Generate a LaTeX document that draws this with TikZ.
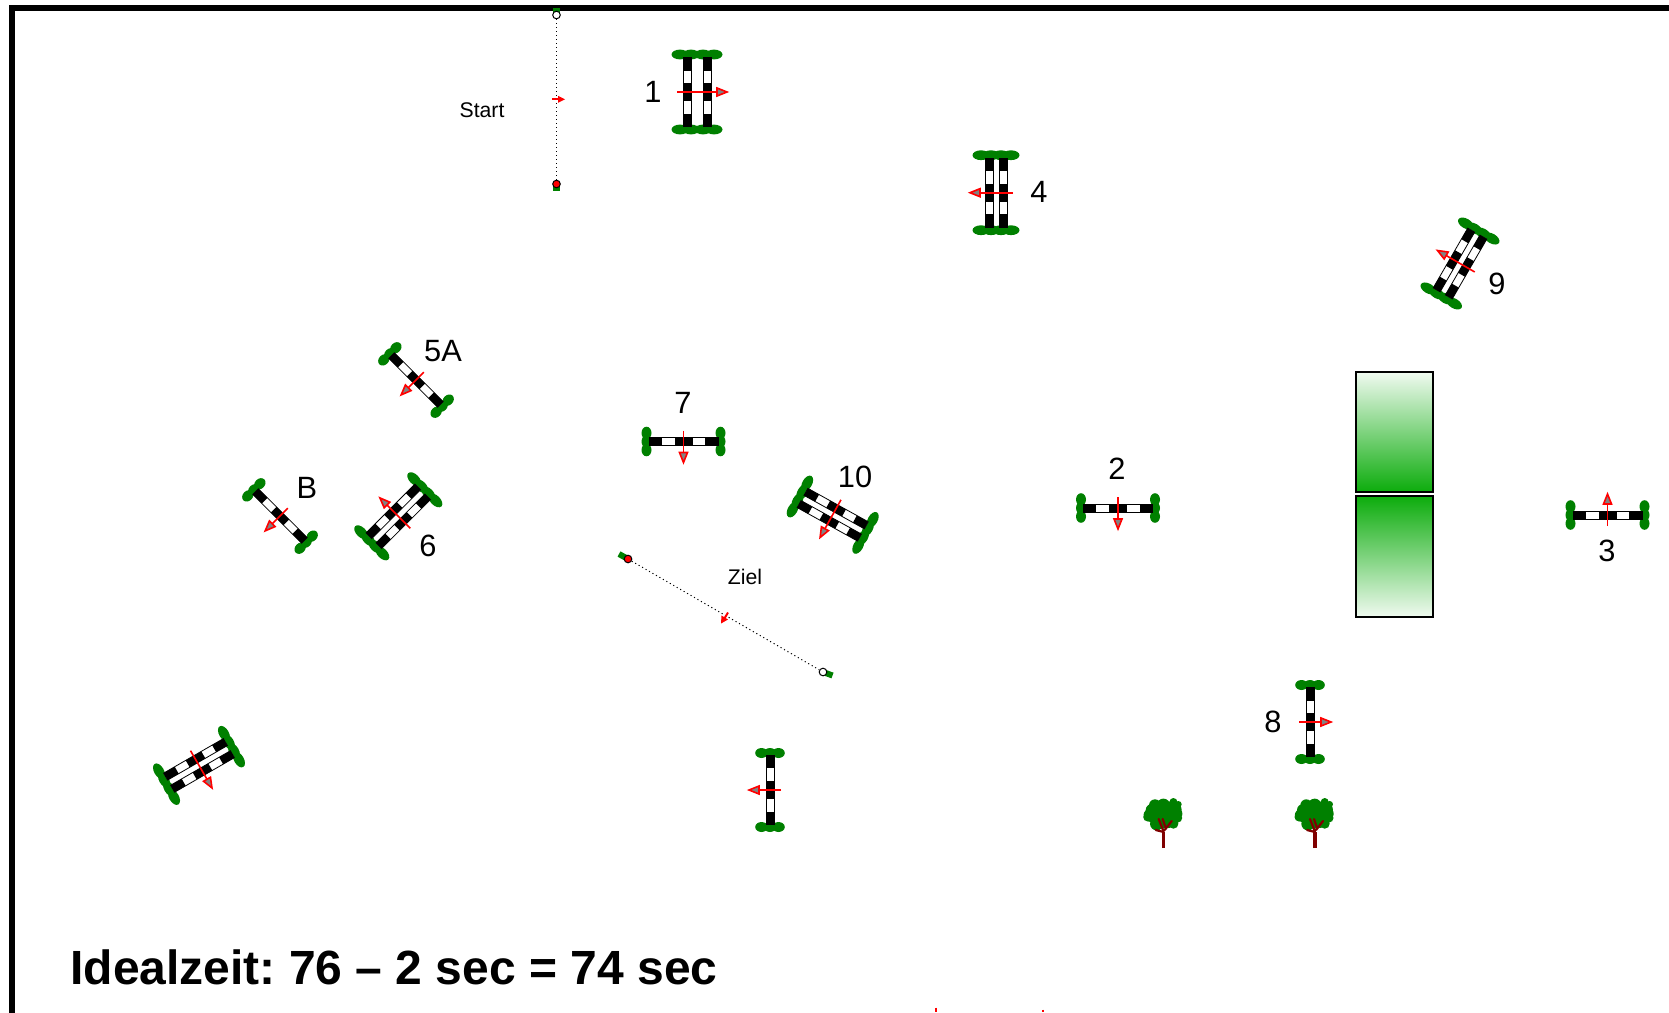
\documentclass[tikz,border=0pt]{standalone}
\usepackage{fontspec}
\setmainfont{Liberation Sans}
\frenchspacing
\definecolor{hedge}{RGB}{0,128,0}
\definecolor{boxgreen}{RGB}{12,172,12}
\definecolor{boxpale}{RGB}{240,250,240}
\definecolor{trunk}{RGB}{128,0,0}
\definecolor{headgray}{RGB}{130,130,130}
\newcommand\jumpbar[1]{%
  \path[barwhite] (-34.5,#1-4) rectangle (34.5,#1+4);
  \fill[black] (-34.5,#1-4) rectangle (-21.7,#1+4);
  \fill[black] (-9,#1-4) rectangle (9,#1+4);
  \fill[black] (21.5,#1-4) rectangle (34.5,#1+4);
}
\newcommand\oxerbody[5]{% half spacing, arrow tail, arrow tip, lobe list, lobe radius
  \foreach \s in {-1,1}{
    \foreach \o in {#4}{
      \fill[hedge] (\s*37.5,\o) ellipse [x radius=4.9,y radius=#5];
    }
  }
  \jumpbar{-#1}
  \jumpbar{#1}
  \draw[redline] (0,#2) -- (0,#3-10);
  \path[redhead] (-4,#3-10) -- (4,#3-10) -- (0,#3) -- cycle;
}
\tikzset{
  x=.5pt,y=-.5pt,
  barwhite/.style={fill=white,draw=black,line width=.4pt},
  redline/.style={draw=red,line width=.8pt},
  redhead/.style={draw=red,fill=headgray,line width=.8pt,line join=miter},
  biglabel/.style={font=\fontsize{15.4}{15.4}\selectfont,inner sep=0pt},
  smalllabel/.style={font=\fontsize{10.6}{11}\selectfont,inner sep=0pt},
  postwhite/.style={circle,draw=black,fill=white,line width=.5pt,minimum size=3.8pt,inner sep=0pt},
  postred/.style={circle,draw=black,fill=red,line width=.5pt,minimum size=3.8pt,inner sep=0pt},
  timeline/.style={draw=black,line width=.5pt,dash pattern=on .55pt off 1.45pt},
  singlejump/.pic={
    \foreach \s in {-1,1}{
      \foreach \o in {-8.5,0,8.5}{
        \fill[hedge] (\s*37,\o) ellipse [x radius=5,y radius=6.3];
      }
    }
    \jumpbar{0}
    \draw[redline] (0,-11) -- (0,11);
    \path[redhead] (-4,11) -- (4,11) -- (0,21) -- cycle;
  },
  wideoxer/.pic={\oxerbody{10}{-20}{30}{-17,-6,6,17}{8.5}},
  oxerjump/.pic={\oxerbody{7}{-17}{26}{-15,-5,5,15}{8.5}},
  tree/.pic={
    \fill[hedge] (-8.7,-42.7) circle [radius=6] (-.3,-42.7) circle [radius=6.7]
      (9.7,-46) circle [radius=4] (14.7,-43.7) circle [radius=3.3]
      (13,-34.3) circle [radius=5.7] (-13.7,-32.7) circle [radius=6.5]
      (-7,-24.3) circle [radius=6.7] (9.7,-24.3) circle [radius=5]
      (-.3,-31) circle [radius=11.7] (-16,-31) circle [radius=4.5]
      (-6,-36) circle [radius=9] (6,-38) circle [radius=8.5] (5,-27) circle [radius=7]
      (-12,-38) circle [radius=6] (11,-38) circle [radius=7] (14,-30) circle [radius=4.5];
    \draw[trunk,line width=1.7pt] (0,0) -- (0,-16);
    \draw[trunk,line width=1.1pt,line cap=round]
      (0,-16) -- (-5,-29) (0,-16) -- (-8,-18) (1,-18) -- (8,-27) (2,-20) -- (-1,-29);
  }
}
\begin{document}
\begin{tikzpicture}
\useasboundingbox (0,0) rectangle (1669,1012);
\clip (0,0) rectangle (1669,1012);
\fill[white] (0,0) rectangle (1669,1012);
\draw[black,line width=3pt] (12,1030) -- (12,8) -- (1690,8);

% water jump boxes
\shade[top color=boxpale,bottom color=boxgreen,draw=black,line width=.6pt] (1356,372) rectangle (1433,492);
\shade[top color=boxgreen,bottom color=boxpale,draw=black,line width=.6pt] (1356,496) rectangle (1433,617);

% jumps
\pic[rotate=90] (j1) at (697,92) {wideoxer};
\pic[rotate=-90] (j4) at (996,192.7) {oxerjump};
\pic[rotate=-120] (j9) at (1460,263.5) {oxerjump};
\pic[rotate=-45] (j5a) at (416,380) {singlejump};
\pic[rotate=-45] (jb) at (280,516) {singlejump};
\pic[rotate=-135] (j6) at (398.3,516.3) {oxerjump};
\pic (j7) at (683.5,441.5) {singlejump};
\pic[rotate=-29] (j10) at (832.7,514.7) {oxerjump};
\pic (j2) at (1118,508) {singlejump};
\pic[rotate=180] (j3) at (1607.5,515) {singlejump};
\pic[rotate=90] (j8) at (1310,722) {singlejump};
\pic[rotate=-90] (jn) at (770,790) {singlejump};
\pic[rotate=30] (jo) at (199,765.4) {oxerjump};

% trees
\pic (t1) at (1163.7,848) {tree};
\pic (t2) at (1315,848) {tree};

% start line
\fill[hedge] (552.5,7.5) rectangle (559.5,15);
\fill[hedge] (553,184) rectangle (560,190.5);
\node[postwhite] (startW) at (556.5,15) {};
\node[postred] (startR) at (556.5,184) {};
\draw[timeline] (startW) -- (startR);
\coordinate (startA) at (552,99.3);
\coordinate (startT) at (560,99.3);
\draw[redline,line width=1pt] (startA) -- (startT);
\fill[red] (558,95.8) -- (565,99.3) -- (558,102.8) -- cycle;

% finish line
\draw[hedge,line width=3pt] (619,554) -- (628,559);
\draw[hedge,line width=3pt] (823,672) -- (832.5,675.5);
\node[postred] (finR) at (628,559) {};
\node[postwhite] (finW) at (823,672) {};
\draw[timeline] (finR) -- (finW);
\coordinate (finA) at (728,612.5);
\coordinate (finT) at (723.5,620);
\draw[redline,line width=1pt] (finA) -- (finT);
\fill[red] (721,623.5) -- (721.5,615.5) -- (728,619.5) -- cycle;

% clipped marks at the lower edge
\coordinate (markA) at (936,1007.5);
\coordinate (markB) at (936,1012);
\coordinate (markC) at (1043,1009.5);
\coordinate (markD) at (1043,1012);
\draw[red,line width=.6pt] (markA) -- (markB);
\draw[red,line width=.6pt] (markC) -- (markD);

% labels
\node[biglabel] (l1) at (653,92) {1};
\node[biglabel] (l4) at (1039,192) {4};
\node[biglabel] (l9) at (1497,284) {9};
\node[biglabel] (l5a) at (443,351) {5A};
\node[biglabel] (l7) at (683,403) {7};
\node[biglabel] (l10) at (855,477) {10};
\node[biglabel] (l2) at (1117,469) {2};
\node[biglabel] (lb) at (307,488) {B};
\node[biglabel] (l6) at (428,546) {6};
\node[biglabel] (l3) at (1607,551) {3};
\node[biglabel] (l8) at (1273,722) {8};
\node[smalllabel] (lstart) at (482,110) {Start};
\node[smalllabel] (lziel) at (745,577) {Ziel};
\node[anchor=base west,inner sep=0pt,font=\fontsize{24}{24}\selectfont\bfseries] (title) at (70,984) {Idealzeit: 76 – 2 sec = 74 sec};
\end{tikzpicture}
\end{document}
